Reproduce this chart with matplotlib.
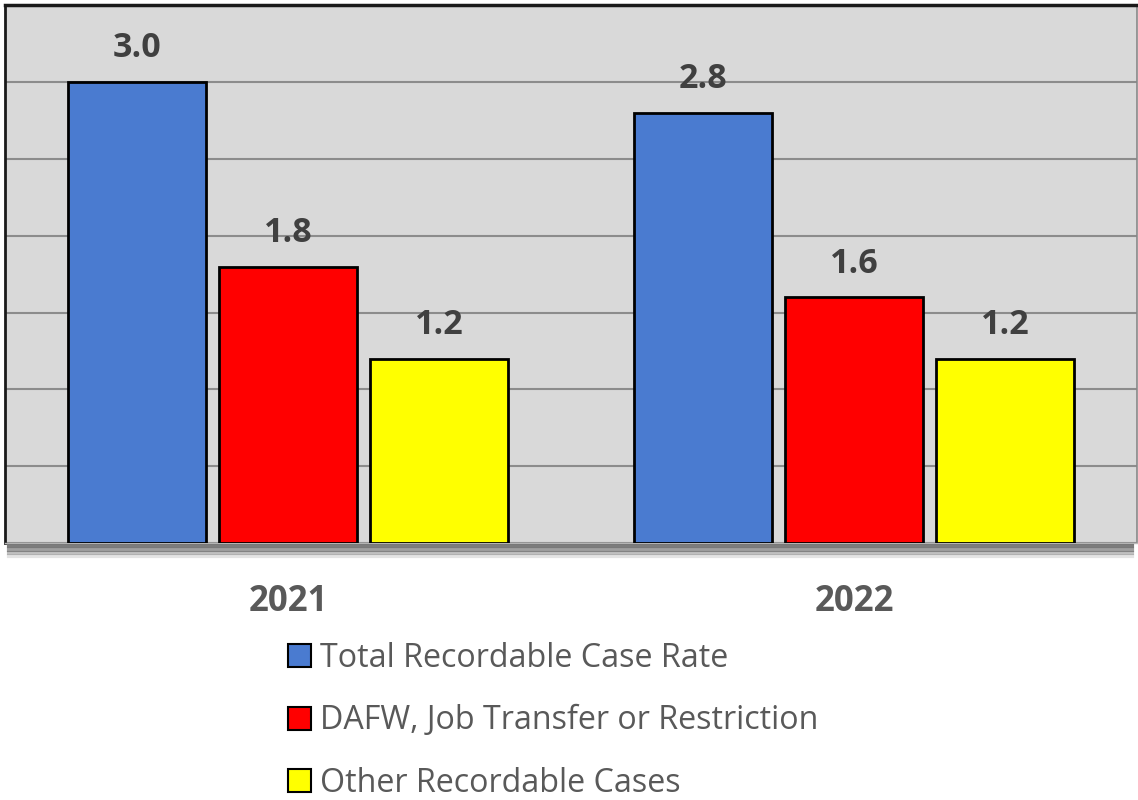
import matplotlib
matplotlib.use("Agg")
import matplotlib.pyplot as plt
import numpy as np
from matplotlib.patches import Patch

categories = ["2021", "2022"]
series_names = ["Total Recordable Case Rate", "DAFW, Job Transfer or Restriction", "Other Recordable Cases"]
total_rate = [3.0, 2.8]
dafw_rate = [1.8, 1.6]
other_rate = [1.2, 1.2]
value_labels = [["3.0", "2.8"], ["1.8", "1.6"], ["1.2", "1.2"]]

colors = ["#4A7BD0", "#FF0000", "#FFFF00"]
plt.rcParams['font.family'] = ['Open Sans', 'DejaVu Sans']

fig = plt.figure(figsize=(11.38, 8.0), dpi=100)
ax = fig.add_axes([0.0044, 0.321, 0.9947, 0.6725])
ax.set_facecolor("#D9D9D9")

x = np.arange(len(categories))
width = 0.245
step = 0.267
series = [total_rate, dafw_rate, other_rate]
for i, (vals, col) in enumerate(zip(series, colors)):
    pos = x + (i - 1) * step
    bars = ax.bar(pos, vals, width, color=col, edgecolor="black", linewidth=2, zorder=3)
    for b, lab in zip(bars, value_labels[i]):
        ax.annotate(lab, (b.get_x() + b.get_width() / 2, b.get_height()),
                    xytext=(0, 12), textcoords="offset points", ha="center", va="bottom",
                    fontsize=24.5, fontweight="bold", color="#404040")

ax.set_xlim(-0.5, 1.5)
ax.set_ylim(0, 3.5)
ax.set_yticks(np.arange(0, 3.51, 0.5))
ax.yaxis.grid(True, color="#8C8C8C", linewidth=1.5, zorder=0)
ax.set_axisbelow(True)
ax.tick_params(left=False, bottom=False, labelleft=False, labelbottom=False)
ax.spines["top"].set_linewidth(2.5)
ax.spines["top"].set_color("#1a1a1a")
ax.spines["left"].set_linewidth(2)
ax.spines["left"].set_color("#1a1a1a")
ax.spines["right"].set_color("#888888")
ax.spines["right"].set_linewidth(1.2)
ax.spines["bottom"].set_color("#bbbbbb")
ax.spines["bottom"].set_linewidth(1)

# shadow under plot area
for k, (dy, a) in enumerate([(0.004, 0.75), (0.008, 0.55), (0.012, 0.35), (0.016, 0.15)]):
    fig.add_artist(plt.Line2D([0.008, 0.995], [0.321 - dy, 0.321 - dy], color="#505050",
                              alpha=a, linewidth=3, transform=fig.transFigure))

for xi, cat in zip(x, categories):
    ax.text(xi, -0.385, cat, ha="center", va="center", fontsize=25, fontweight="bold",
            color="#595959", transform=ax.transData, clip_on=False)

handles = [Patch(facecolor=c, edgecolor="black", linewidth=1.5) for c in colors]
fig.legend(handles, series_names, loc="upper left", bbox_to_anchor=(0.242, 0.214),
           frameon=False, fontsize=23.2, labelcolor="#595959", handlelength=0.72,
           handleheight=0.72, handletextpad=0.25, labelspacing=0.92, borderaxespad=0)

fig.savefig("out.png", dpi=100, facecolor="white")
